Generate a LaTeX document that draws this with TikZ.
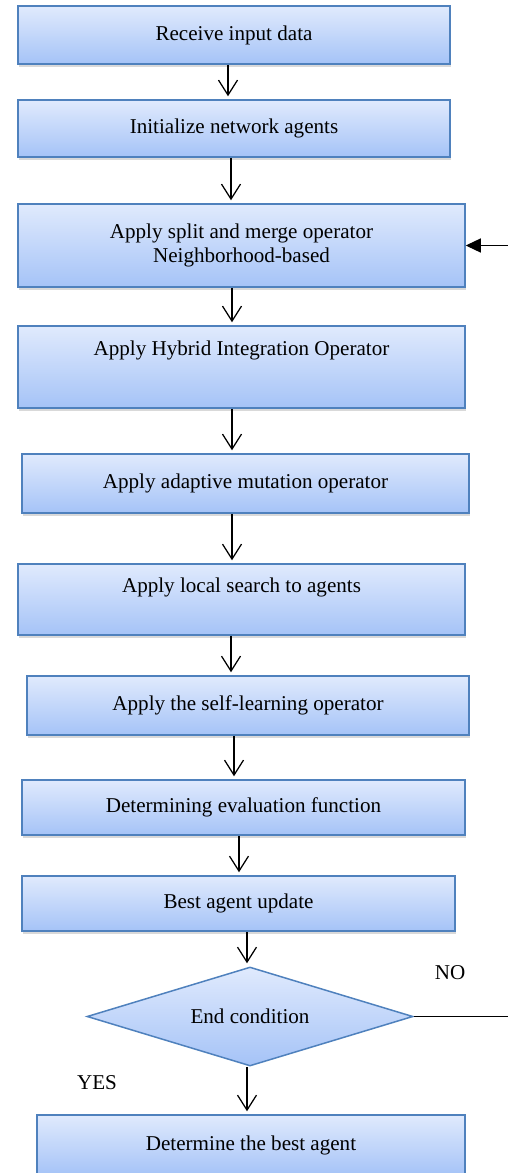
\documentclass[tikz,border=0pt]{standalone}
\usepackage{fontspec}
\setmainfont{Liberation Serif}
\usetikzlibrary{shapes.geometric, arrows.meta, shadows}
\definecolor{boxtop}{HTML}{E0EAFD}
\definecolor{boxbot}{HTML}{A5C3F7}
\definecolor{boxline}{HTML}{4F81BD}

\begin{document}
\begin{tikzpicture}[
            scale = 1,
            every node/.style={font=\fontsize{12}{13.8}\selectfont, align=center},
            box/.style={draw=boxline, line width=.03cm, top color=boxtop, bottom color=boxbot,
                drop shadow={shadow xshift=.02cm, shadow yshift=-.06cm, opacity=.3}},
            decision/.style={diamond, aspect=3.3, inner sep=1pt, draw=boxline, line width=.03cm,
                top color=boxtop, bottom color=boxbot},
            line/.style={line width = .025cm},
            flow/.style={line, -{Straight Barb[length=.3cm, width=.38cm]}, shorten >=.06cm},
            ]
        \useasboundingbox (0,0) rectangle (10.16,-23.46);

        \node[box, minimum width=8.64cm, minimum height=1.16cm] (1) at (4.68,-0.70) {Receive input data};
        \node[box, minimum width=8.64cm, minimum height=1.14cm] (2) at (4.68,-2.57) {Initialize network agents};
        \node[box, minimum width=8.94cm, minimum height=1.66cm] (3) at (4.83,-4.91) {Apply split and merge operator\\ Neighborhood-based};
        \node[box, minimum width=8.94cm, minimum height=1.64cm, text depth=.77cm] (4) at (4.83,-7.34) {Apply Hybrid Integration Operator};
        \node[box, minimum width=8.94cm, minimum height=1.18cm] (5) at (4.91,-9.67) {Apply adaptive mutation operator};
        \node[box, minimum width=8.94cm, minimum height=1.42cm, text depth=.57cm] (6) at (4.83,-11.99) {Apply local search to agents};
        \node[box, minimum width=8.84cm, minimum height=1.18cm] (7) at (4.96,-14.11) {Apply the self-learning operator};
        \node[box, minimum width=8.86cm, minimum height=1.10cm] (8) at (4.87,-16.15) {Determining evaluation function};
        \node[box, minimum width=8.66cm, minimum height=1.10cm] (9) at (4.77,-18.07) {Best agent update};
        \node[decision, minimum width=6.52cm, minimum height=1.98cm] (10) at (5.00,-20.33) {End condition};
        \node[box, minimum width=8.56cm, minimum height=1.20cm] (11) at (5.02,-22.90) {Determine the best agent};

        \node (nolbl) at (9.00,-19.46) {NO};
        \node (yeslbl) at (1.94,-21.66) {YES};
        \coordinate (noend) at (10.16,-20.33);
        \coordinate (loop) at (10.16,-4.91);

        \foreach \a/\b/\dx in {1/2/-.12, 2/3/-.06, 3/4/-.19, 4/5/-.19, 5/6/-.27,
                               6/7/-.21, 7/8/-.28, 8/9/-.09, 9/10/.17, 10/11/-.06}
            \draw[flow] ([xshift=\dx cm]\a.south) -- ([xshift=\dx cm]\a.south |- \b.north);

        \draw[line] (10.east) -- (noend);
        \draw[line, -{Triangle[length=.3cm, width=.28cm]}] (loop) -- (3.east);
    \end{tikzpicture}
\end{document}
